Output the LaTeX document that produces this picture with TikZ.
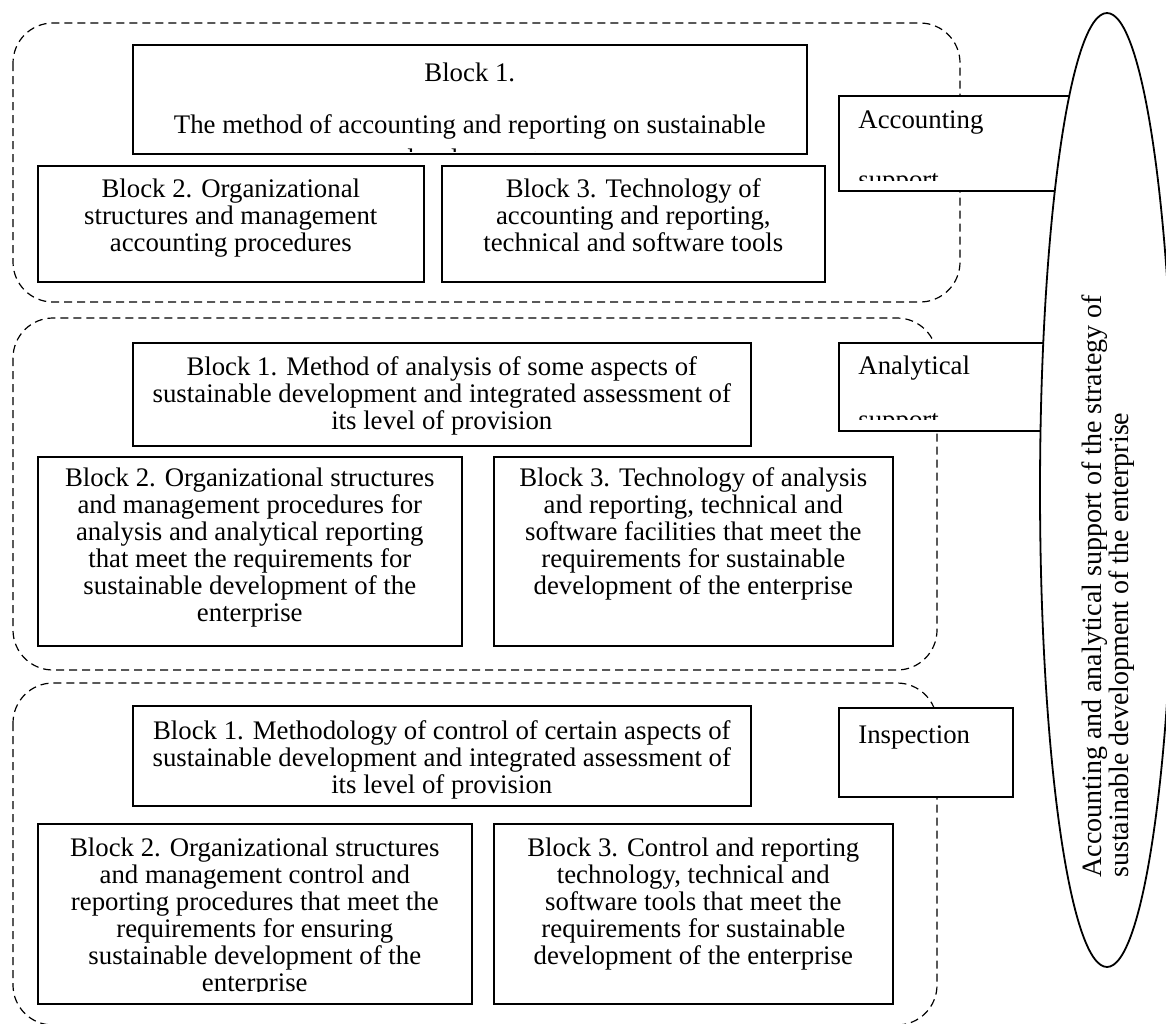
\documentclass[tikz,border=0pt]{standalone}
\usepackage{fontspec}
\setmainfont{Liberation Serif}
\usetikzlibrary{shapes.geometric}

\tikzset{
    grp/.style={draw, dash pattern=on 4pt off 2.5pt, line width=0.6pt, rounded corners=20pt},
    blk/.style={draw, fill=white, line width=0.8pt, inner sep=0pt, anchor=north west},
    txt/.style={inner sep=0pt, align=center, anchor=north, font=\fontsize{13.4pt}{13.5pt}\selectfont},
    lbl/.style={inner sep=0pt, align=left, anchor=north west, font=\fontsize{13.4pt}{13.5pt}\selectfont},
}

\begin{document}
\begin{tikzpicture}[x=0.5pt, y=-0.5pt]
    %page frame
        \useasboundingbox (0,0) rectangle (1166,1023);

    %dashed groups
        \draw[grp] (13,23) rectangle (960,302);
        \draw[grp] (13,318) rectangle (937,670);
        \draw[grp] (13,683) rectangle (937,1025);

    %accounting support
        \node[blk, minimum width=337pt, minimum height=54.5pt] (accB1) at (132,44) {};
        \node[blk, minimum width=193pt, minimum height=58pt] (accB2) at (37,165) {};
        \node[blk, minimum width=191.5pt, minimum height=58pt] (accB3) at (441,165) {};
        \node[blk, minimum width=126pt, minimum height=47.5pt] (accLbl) at (838,95) {};
        \begin{scope}
            \clip (132,44) rectangle (806,151);
            \node[txt] (accB1t) at ([yshift=-9.3pt]accB1.north) {Block 1.\\[12.5pt]The method of accounting and reporting on sustainable\\[3.5pt]development};
        \end{scope}
        \node[txt] (accB2t) at ([yshift=-6.8pt]accB2.north) {Block 2. Organizational\\structures and management\\accounting procedures};
        \node[txt] (accB3t) at ([yshift=-6.8pt]accB3.north) {Block 3. Technology of\\accounting and reporting,\\technical and software tools};
        \begin{scope}
            \clip (838,95) rectangle (1060,180);
            \node[lbl] (accLblt) at ([xshift=10pt, yshift=-7.5pt]accLbl.north west) {Accounting\\[16.5pt]support};
        \end{scope}

    %analytical support
        \node[blk, minimum width=309pt, minimum height=51.5pt] (anaB1) at (132,342) {};
        \node[blk, minimum width=212pt, minimum height=94.5pt] (anaB2) at (37,456) {};
        \node[blk, minimum width=199.5pt, minimum height=94.5pt] (anaB3) at (493,456) {};
        \node[blk, minimum width=126pt, minimum height=44pt] (anaLbl) at (838,342) {};
        \node[txt] (anaB1t) at ([yshift=-7.3pt]anaB1.north) {Block 1. Method of analysis of some aspects of\\sustainable development and integrated assessment of\\its level of provision};
        \node[txt] (anaB2t) at ([yshift=-5.8pt]anaB2.north) {Block 2. Organizational structures\\and management procedures for\\analysis and analytical reporting\\that meet the requirements for\\sustainable development of the\\enterprise};
        \node[txt] (anaB3t) at ([yshift=-5.8pt]anaB3.north) {Block 3. Technology of analysis\\and reporting, technical and\\software facilities that meet the\\requirements for sustainable\\development of the enterprise};
        \begin{scope}
            \clip (838,342) rectangle (1040,419);
            \node[lbl] (anaLblt) at ([xshift=10pt, yshift=-6.8pt]anaLbl.north west) {Analytical\\[13.5pt]support};
        \end{scope}

    %inspection
        \node[blk, minimum width=309pt, minimum height=50pt] (conB1) at (132,705) {};
        \node[blk, minimum width=217pt, minimum height=90pt] (conB2) at (37,823) {};
        \node[blk, minimum width=199.5pt, minimum height=90pt] (conB3) at (493,823) {};
        \node[blk, minimum width=87pt, minimum height=44.5pt] (insLbl) at (838,707) {};
        \node[txt] (conB1t) at ([yshift=-7.8pt]conB1.north) {Block 1. Methodology of control of certain aspects of\\sustainable development and integrated assessment of\\its level of provision};
        \begin{scope}
            \clip (37,823) rectangle (471,991);
            \node[txt] (conB2t) at ([yshift=-7.3pt]conB2.north) {Block 2. Organizational structures\\and management control and\\reporting procedures that meet the\\requirements for ensuring\\sustainable development of the\\enterprise};
        \end{scope}
        \node[txt] (conB3t) at ([yshift=-7.3pt]conB3.north) {Block 3. Control and reporting\\technology, technical and\\software tools that meet the\\requirements for sustainable\\development of the enterprise};
        \node[lbl] (insLblt) at ([xshift=10pt, yshift=-9.3pt]insLbl.north west) {Inspection};

    %strategy ellipse
        \node[ellipse, draw, fill=white, line width=0.9pt, inner sep=0pt, minimum width=67pt, minimum height=477pt] (strat) at (1107,490) {};
        \node[lbl, rotate=90, anchor=west, font=\fontsize{14pt}{12.5pt}\selectfont] (stratT) at (1108,878) {Accounting and analytical support of the strategy of\\sustainable development of the enterprise};
\end{tikzpicture}
\end{document}
